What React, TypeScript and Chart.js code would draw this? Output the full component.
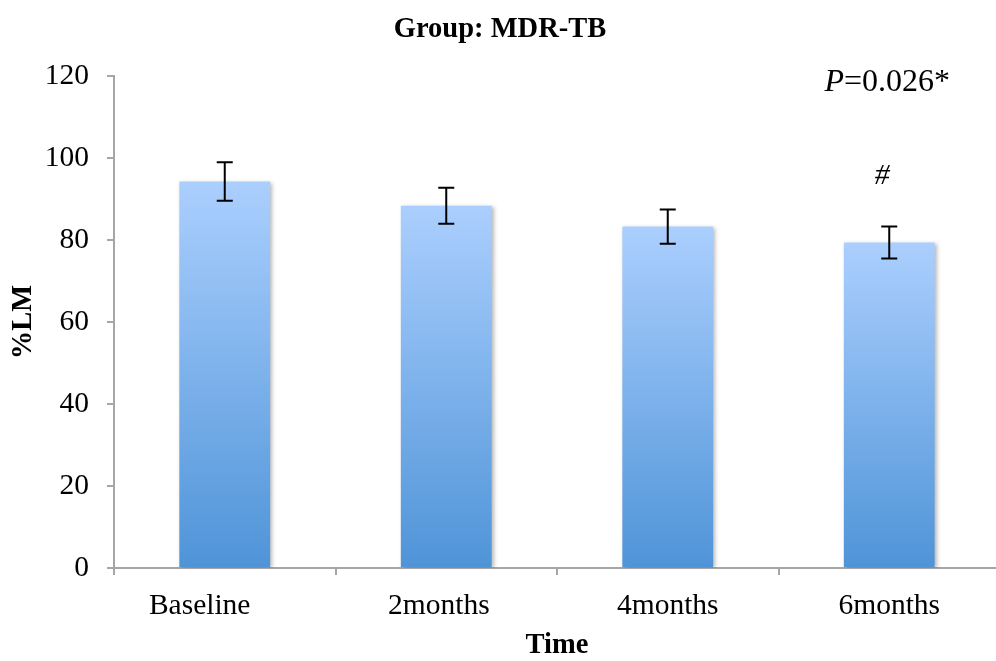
import React, { useEffect, useRef } from "react";
import { Chart, registerables } from "chart.js";

Chart.register(...registerables);

// Group means of %LM at each visit, with standard error
const categories = ["Baseline", "2months", "4months", "6months"];
const meanLM = [94.3, 88.4, 83.3, 79.4];
const errorLM = [4.7, 4.4, 4.2, 3.9];
const yTicks = [0, 20, 40, 60, 80, 100, 120];
const pValueText = "0.026*";
const flagged = [false, false, false, true];
// trailing space appended to a category label (pulls its text leftwards)
const labelTail = ["\u2003\u2002\u2009", "\u2002", "", ""];

const SERIF = "'Liberation Serif', 'Times New Roman', serif";
const AXIS_GREY = "#a6a6a6";

// Shadow behind the bars only
const barShadow = {
  id: "barShadow",
  beforeDatasetsDraw(chart: any) {
    const ctx = chart.ctx;
    ctx.save();
    ctx.shadowColor = "rgba(0,0,0,0.28)";
    ctx.shadowBlur = 4;
    ctx.shadowOffsetX = 2;
    ctx.shadowOffsetY = 1;
  },
  afterDatasetsDraw(chart: any) {
    chart.ctx.restore();
  },
};

// Error bars, the P value and the # marker
const overlays = {
  id: "overlays",
  afterDatasetsDraw(chart: any) {
    const ctx = chart.ctx;
    const x = chart.scales.x;
    const y = chart.scales.y;
    ctx.save();
    ctx.strokeStyle = "#000";
    ctx.lineWidth = 2;
    meanLM.forEach((m, i) => {
      const cx = x.getPixelForValue(i);
      const top = y.getPixelForValue(m + errorLM[i]);
      const bot = y.getPixelForValue(m - errorLM[i]);
      ctx.beginPath();
      ctx.moveTo(cx, top);
      ctx.lineTo(cx, bot);
      ctx.moveTo(cx - 8, top);
      ctx.lineTo(cx + 8, top);
      ctx.moveTo(cx - 8, bot);
      ctx.lineTo(cx + 8, bot);
      ctx.stroke();
      if (flagged[i]) {
        ctx.fillStyle = "#000";
        ctx.font = `italic 30px ${SERIF}`;
        ctx.textAlign = "center";
        ctx.textBaseline = "alphabetic";
        ctx.fillText("#", cx - 7, top - 43);
      }
    });
    // P value, italic P followed by the rest
    const area = chart.chartArea;
    ctx.fillStyle = "#000";
    ctx.textBaseline = "alphabetic";
    ctx.textAlign = "left";
    ctx.font = `italic 32px ${SERIF}`;
    const pW = ctx.measureText("P").width;
    ctx.font = `32px ${SERIF}`;
    const restW = ctx.measureText("=" + pValueText).width;
    const right = area.right - 50;
    const baseY = area.top + 15;
    ctx.font = `italic 32px ${SERIF}`;
    ctx.fillText("P", right - restW - pW, baseY);
    ctx.font = `32px ${SERIF}`;
    ctx.fillText("=" + pValueText, right - restW, baseY);
    ctx.restore();
  },
};

export default function App() {
  const ref = useRef<HTMLCanvasElement | null>(null);

  useEffect(() => {
    document.body.style.margin = "0";
    const canvas = ref.current;
    if (!canvas) return;
    const chart = new Chart(canvas, {
      type: "bar",
      data: {
        labels: categories,
        datasets: [
          {
            data: meanLM,
            backgroundColor: (c: any) => {
              const ch = c.chart;
              const ys = ch.scales?.y;
              if (!ys || !ch.chartArea) return "#7fb0ea";
              const top = ys.getPixelForValue(c.raw ?? 0);
              const bot = ys.getPixelForValue(0);
              const g = ch.ctx.createLinearGradient(0, top, 0, bot);
              g.addColorStop(0, "#abcffe");
              g.addColorStop(1, "#4f94d8");
              return g;
            },
            borderWidth: 0,
            barPercentage: 0.41,
            categoryPercentage: 1,
          },
        ],
      },
      options: {
        responsive: false,
        animation: false,
        layout: { padding: { left: 0, right: 0, top: 0, bottom: 0 } },
        plugins: {
          legend: { display: false },
          tooltip: { enabled: false },
          title: {
            display: true,
            text: "Group: MDR-TB",
            color: "#000",
            font: { family: SERIF, size: 28.5, weight: "bold" },
            padding: { top: 13, bottom: 29 },
          },
        },
        scales: {
          x: {
            grid: {
              offset: true,
              drawOnChartArea: false,
              drawTicks: true,
              tickLength: 7,
              color: AXIS_GREY,
              lineWidth: 2,
            },
            border: { color: AXIS_GREY, width: 2 },
            ticks: {
              color: "#000",
              font: { family: SERIF, size: 29.5 },
              padding: 14,
              maxRotation: 0,
              callback: (_v: any, i: number) => categories[i] + labelTail[i],
            },
            title: {
              display: true,
              text: "Time",
              color: "#000",
              font: { family: SERIF, size: 28.5, weight: "bold" },
              padding: { top: 0, bottom: -2 },
            },
            afterFit: (s: any) => {
              s.height = 93;
            },
          },
          y: {
            min: 0,
            max: 120,
            afterBuildTicks: (s: any) => {
              s.ticks = yTicks.map((v) => ({ value: v }));
            },
            grid: {
              drawOnChartArea: false,
              drawTicks: true,
              tickLength: 7,
              color: AXIS_GREY,
              lineWidth: 2,
            },
            border: { color: AXIS_GREY, width: 2 },
            ticks: {
              color: "#000",
              font: { family: SERIF, size: 29.5 },
              padding: 18,
            },
            title: {
              display: true,
              text: "%LM",
              color: "#000",
              font: { family: SERIF, size: 28.5, weight: "bold" },
              padding: { top: 7, bottom: 0 },
            },
            afterFit: (s: any) => {
              s.width = 114;
            },
          },
        },
      },
      plugins: [barShadow, overlays],
    });
    return () => chart.destroy();
  }, []);

  return (
    <div style={{ width: 996, height: 661, overflow: "hidden", background: "#fff" }}>
      <canvas ref={ref} width={1000} height={661} style={{ display: "block" }} />
    </div>
  );
}
